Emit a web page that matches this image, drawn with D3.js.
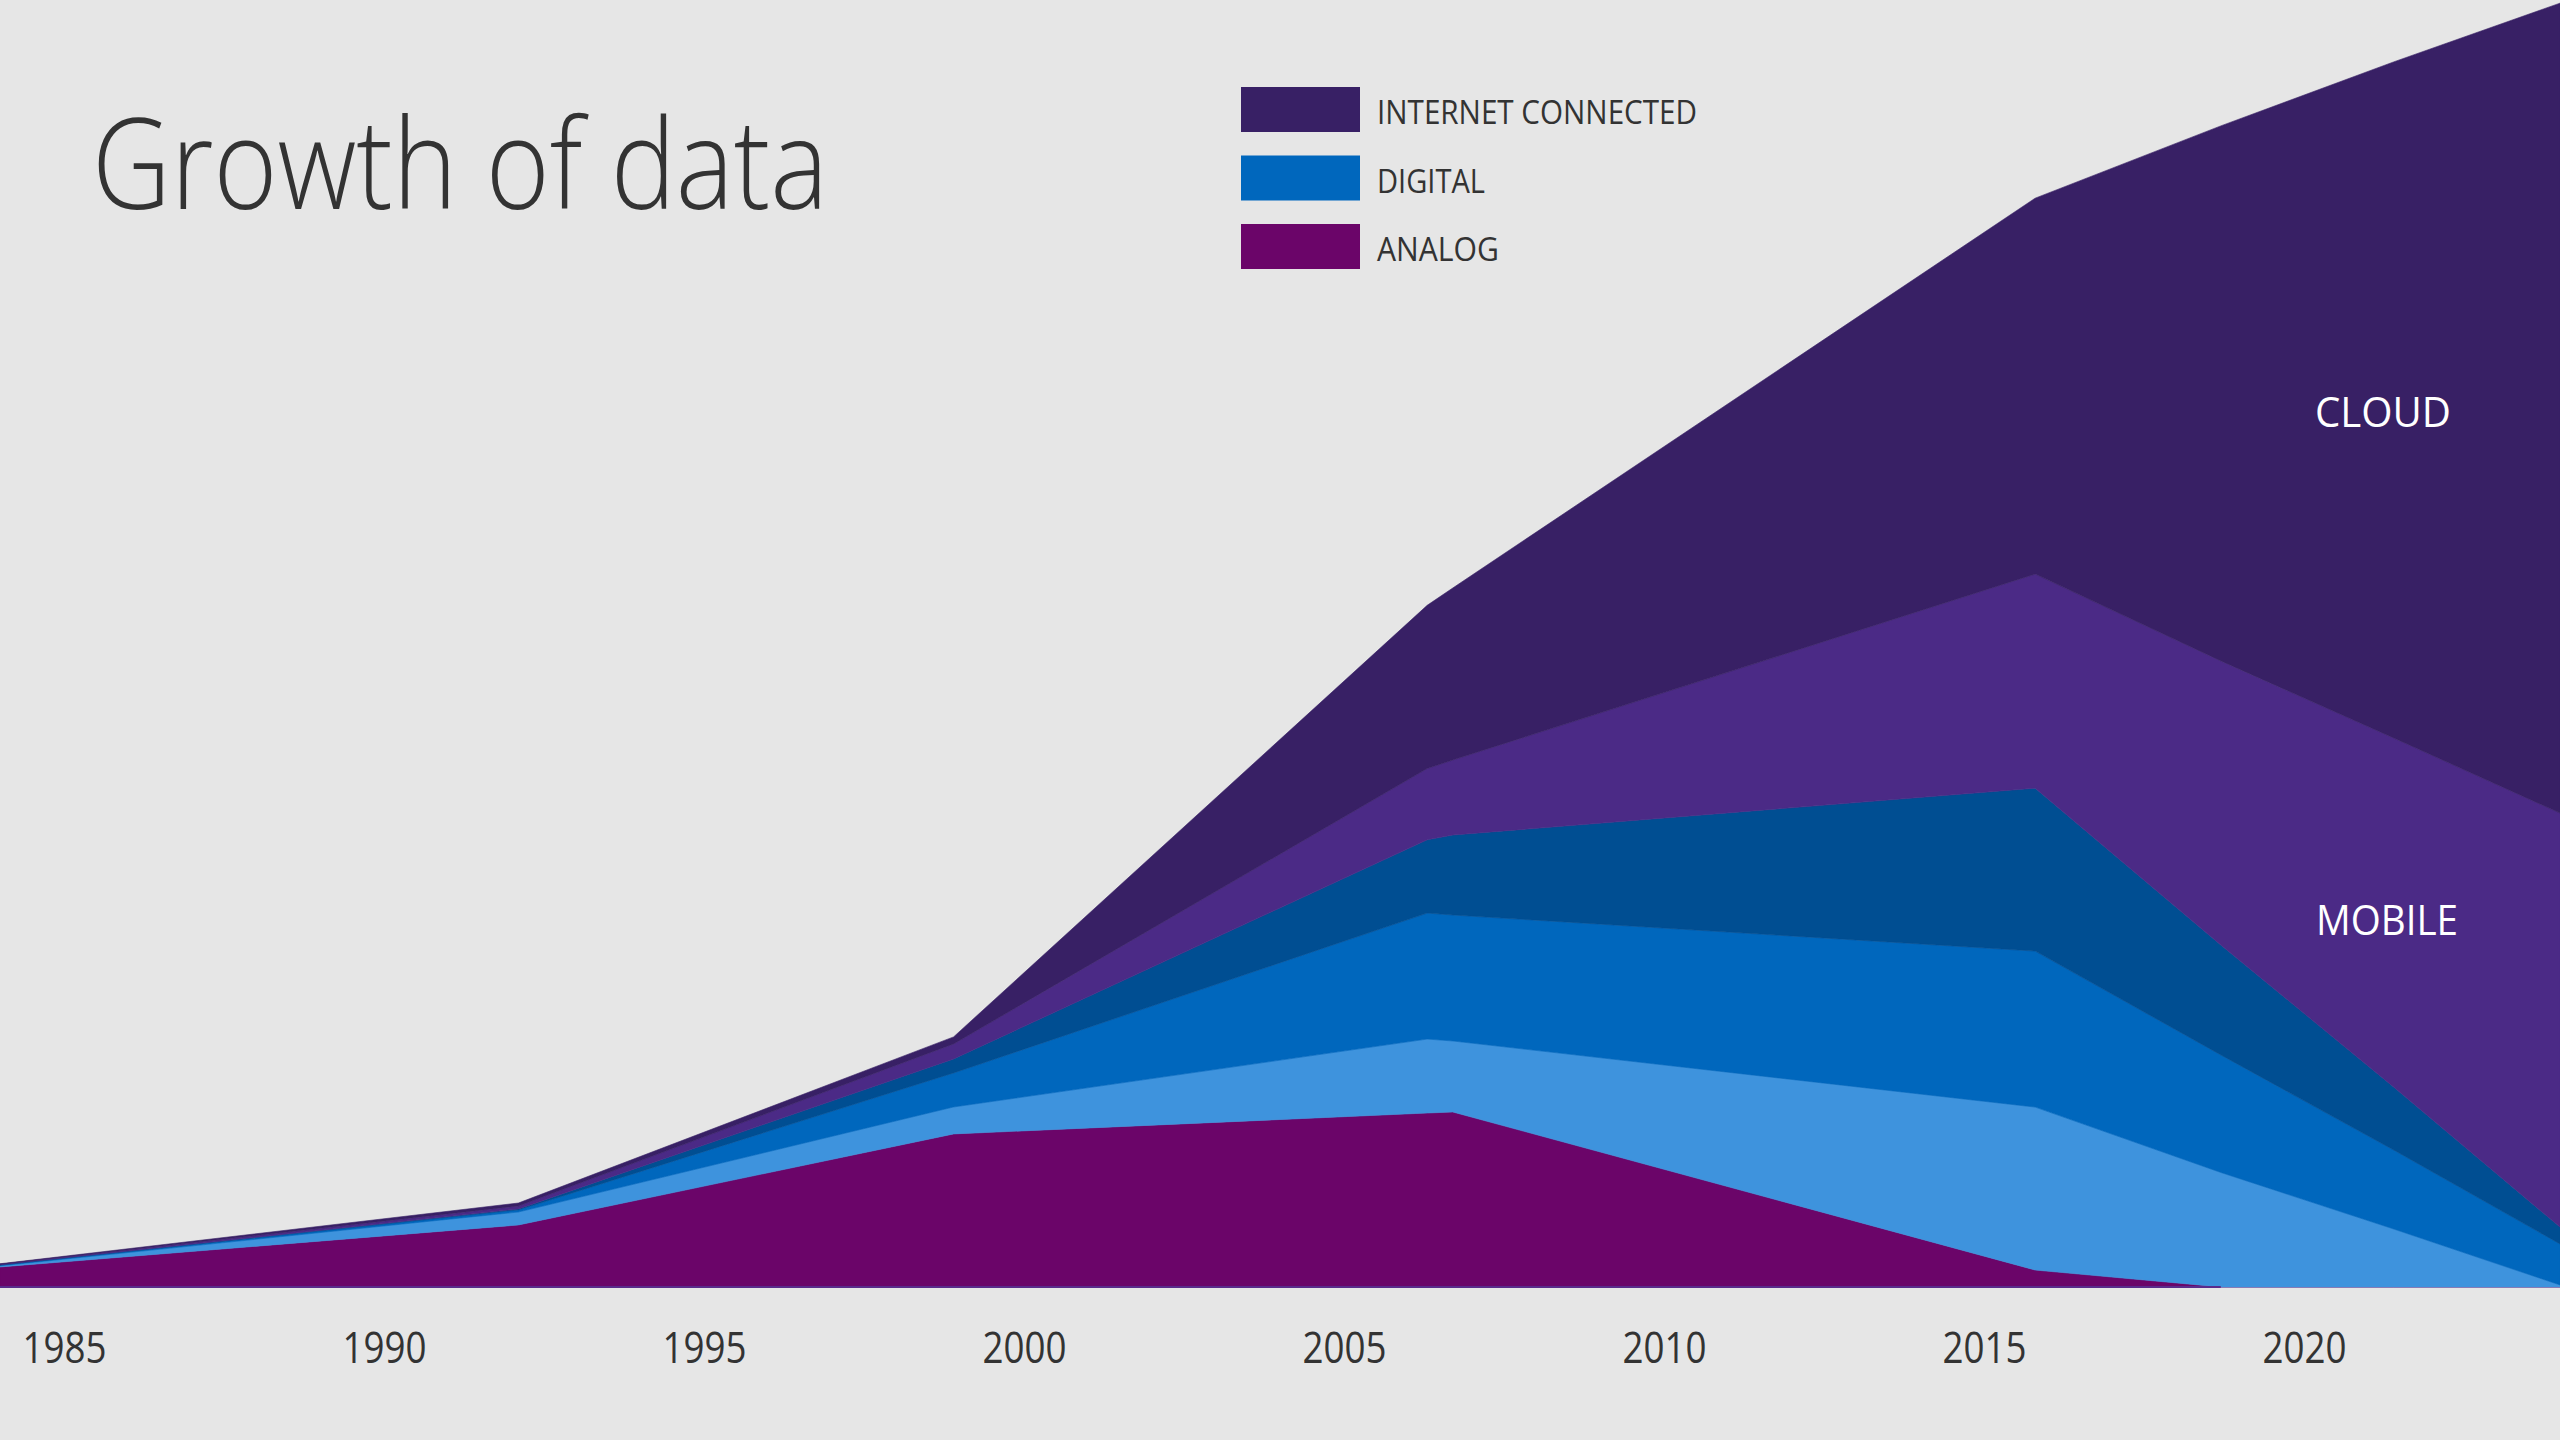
<!DOCTYPE html>
<html>
<head>
<meta charset="utf-8">
<script src="https://cdn.jsdelivr.net/npm/d3@7"></script>
<style>
  html, body { margin: 0; padding: 0; background: #e6e6e6; }
  svg { display: block; }
  text { font-family: "Open Sans", "Noto Sans", sans-serif; }
</style>
</head>
<body>
<svg id="chart" width="2560" height="1440"></svg>
<script>
// ---- data (relative volume) ----
const years        = [1984, 1992.1, 1998.9, 2006.3, 2006.7, 2015.8, 2018.7, 2021.4, 2024];
const analog       = [1.56, 4.83, 11.92, 13.55, 13.63, 1.32, 0, 0, 0];
const digitalLight = [0.09, 1.01, 2.10, 5.76, 5.53, 12.69, 8.92, 4.52, 0.16];
const digitalMid   = [0.05, 0.16, 2.65, 9.81, 9.81, 12.15, 9.15, 6.15, 3.19];
const digitalDark  = [0.03, 0.08, 1.09, 5.71, 6.23, 12.69, 8.57, 4.91, 1.32];
const mobile       = [0.04, 0.23, 1.17, 5.55, 5.84, 16.67, 22.12, 27.18, 32.24];
const cloud        = [0.04, 0.23, 0.55, 12.71, 13.40, 29.28, 41.67, 52.65, 63.08];

const tickYears    = [1985, 1990, 1995, 2000, 2005, 2010, 2015, 2020];
const seriesKeys   = ["analog", "digitalLight", "digitalMid", "digitalDark", "mobile", "cloud"];
const legendLabels = ["INTERNET CONNECTED", "DIGITAL", "ANALOG"];
const legendKeys   = ["cloud", "digitalMid", "analog"];
const areaLabels   = ["CLOUD", "MOBILE"];
const titleText    = "Growth of data";

// ---- styling ----
const colors = {
  analog: "#6b0569",
  digitalLight: "#3e93dd",
  digitalMid: "#0067bd",
  digitalDark: "#004e92",
  mobile: "#4b2a86",
  cloud: "#382065"
};

const W = 2560, H = 1440;
const baseY = 1287;
const svg = d3.select("#chart");
svg.append("rect").attr("width", W).attr("height", H).attr("fill", "#e6e6e6");

const table = years.map((y, i) => ({
  year: y,
  analog: analog[i],
  digitalLight: digitalLight[i],
  digitalMid: digitalMid[i],
  digitalDark: digitalDark[i],
  mobile: mobile[i],
  cloud: cloud[i]
}));

const x = d3.scaleLinear().domain([1984, 2024]).range([0, W]);
const y = d3.scaleLinear().domain([0, 100]).range([baseY, 3]);

const stacked = d3.stack().keys(seriesKeys)(table);

const area = d3.area()
  .x(d => x(d.data.year))
  .y0(d => y(d[0]))
  .y1(d => y(d[1]))
  .curve(d3.curveLinear);

svg.append("g").selectAll("path")
  .data(stacked)
  .join("path")
  .attr("d", area)
  .attr("fill", d => colors[d.key])
  .attr("stroke", d => colors[d.key])
  .attr("stroke-width", 0.6);

// thin baseline under the analog layer
const analogEnd = years[analog.findIndex((v, i) => i > 0 && v === 0)];
svg.append("line")
  .attr("x1", x(1984)).attr("x2", x(analogEnd))
  .attr("y1", y(0)).attr("y2", y(0))
  .attr("stroke", "#5a2b8c").attr("stroke-width", 2);

// ---- x axis ----
const axis = d3.axisBottom(x)
  .tickValues(tickYears)
  .tickFormat(d3.format("d"))
  .tickSize(0);

const gx = svg.append("g")
  .attr("transform", `translate(0, 1363)`)
  .call(axis);
gx.select(".domain").remove();
gx.selectAll("text")
  .attr("y", 0).attr("dy", null)
  .attr("font-family", "'Open Sans', 'Noto Sans', sans-serif")
  .attr("font-size", 44)
  .attr("fill", "#333333")
  .attr("text-anchor", "middle")
  .attr("textLength", 84)
  .attr("lengthAdjust", "spacingAndGlyphs");

// ---- title ----
svg.append("text")
  .attr("x", 92).attr("y", 209)
  .attr("font-size", 125)
  .attr("font-weight", 300)
  .attr("fill", "#333333")
  .attr("textLength", 736)
  .attr("lengthAdjust", "spacingAndGlyphs")
  .text(titleText);

// ---- legend ----
const legendTextWidths = [320, 108, 122];
const lg = svg.append("g");
legendLabels.forEach((lab, i) => {
  const top = 87 + i * 68.5;
  lg.append("rect")
    .attr("x", 1241).attr("y", top)
    .attr("width", 119).attr("height", 45)
    .attr("fill", colors[legendKeys[i]]);
  lg.append("text")
    .attr("x", 1377).attr("y", top + 37)
    .attr("font-size", 32)
    .attr("fill", "#333333")
    .attr("textLength", legendTextWidths[i])
    .attr("lengthAdjust", "spacingAndGlyphs")
    .text(lab);
});

// ---- in-area labels ----
const areaLabelPos = [[2315, 427, 136], [2316, 935, 142]];
areaLabels.forEach((lab, i) => {
  svg.append("text")
    .attr("x", areaLabelPos[i][0]).attr("y", areaLabelPos[i][1])
    .attr("font-size", 42)
    .attr("fill", "#ffffff")
    .attr("textLength", areaLabelPos[i][2])
    .attr("lengthAdjust", "spacingAndGlyphs")
    .text(lab);
});
</script>
</body>
</html>
